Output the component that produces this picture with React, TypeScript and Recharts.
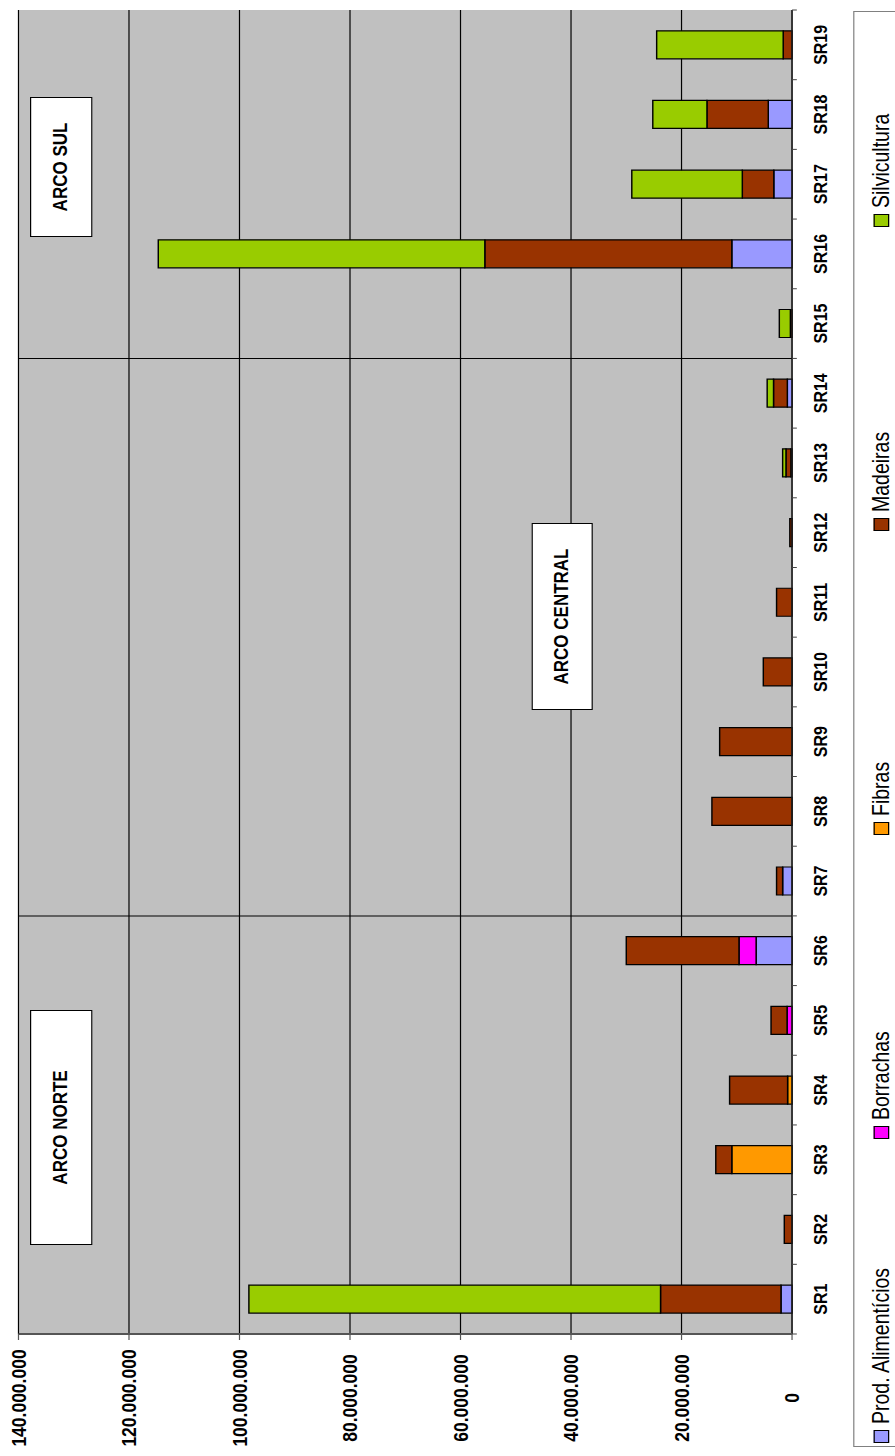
import React from 'react';
import { BarChart, Bar, XAxis, YAxis, CartesianGrid, ReferenceLine, ReferenceArea } from 'recharts';

// Sub-regions along the category axis
const regions = [
  'SR1', 'SR2', 'SR3', 'SR4', 'SR5', 'SR6', 'SR7', 'SR8', 'SR9', 'SR10',
  'SR11', 'SR12', 'SR13', 'SR14', 'SR15', 'SR16', 'SR17', 'SR18', 'SR19',
];

// Production value per product group (R$)
const prodAlimenticios = [
  2000000, 0, 0, 0, 0, 6500000, 1700000, 0, 0, 0,
  0, 0, 200000, 850000, 0, 10900000, 3300000, 4300000, 0,
];
const borrachas = [
  0, 0, 0, 0, 900000, 3100000, 0, 0, 0, 0,
  0, 0, 0, 0, 0, 0, 0, 0, 0,
];
const fibras = [
  0, 0, 10900000, 800000, 0, 0, 0, 0, 0, 0,
  0, 0, 0, 0, 0, 0, 0, 0, 0,
];
const madeiras = [
  21800000, 1400000, 2900000, 10500000, 2900000, 20400000, 1100000, 14500000, 13100000, 5200000,
  2800000, 400000, 900000, 2500000, 300000, 44700000, 5700000, 11100000, 1600000,
];
const silvicultura = [
  74500000, 0, 0, 0, 0, 0, 0, 0, 0, 0,
  0, 0, 600000, 1150000, 2000000, 59100000, 20000000, 9800000, 22900000,
];

const valueTicks = [0, 20000000, 40000000, 60000000, 80000000, 100000000, 120000000, 140000000];

// Regional groupings and the last sub-region of each group that is followed by a divider
const arcos = ['ARCO NORTE', 'ARCO CENTRAL', 'ARCO SUL'];
const arcoBreaks = ['SR6', 'SR14'];

const series = [
  { key: 'prod', name: 'Prod. Alimentícios', values: prodAlimenticios, color: '#9999ff' },
  { key: 'borr', name: 'Borrachas', values: borrachas, color: '#ff00ff' },
  { key: 'fib', name: 'Fibras', values: fibras, color: '#ff9900' },
  { key: 'mad', name: 'Madeiras', values: madeiras, color: '#993300' },
  { key: 'silv', name: 'Silvicultura', values: silvicultura, color: '#99cc00' },
];

const data = regions.map((region, i) => {
  const row: Record<string, any> = { region };
  series.forEach((s) => { row[s.key] = s.values[i]; });
  return row;
});

const FONT = 'Arial, "Liberation Sans", sans-serif';

// The chart is laid out upright and then turned a quarter turn counter-clockwise
const PAGE_W = 895;
const PAGE_H = 1456;
const STRETCH = 1.2;
const FRAME_W = PAGE_H;
const FRAME_H = PAGE_W / STRETCH;

const MARGIN = { top: 15.4, right: 10, left: 12, bottom: 55.8 };
const Y_AXIS_W = 110;
const X_AXIS_H = 30;
const PLOT_W = FRAME_W - MARGIN.left - Y_AXIS_W - MARGIN.right;

const CAT_TICK_SIZE = 4;
const CAT_TICK_MARGIN = 14;

const fmtThousands = (v: number) => String(v).replace(/\B(?=(\d{3})+(?!\d))/g, '.');

const CategoryTick = (props: any) => {
  const { x, y, payload, index, visibleTicksCount } = props;
  const half = payload.offset || PLOT_W / regions.length / 2;
  const axisY = y - CAT_TICK_SIZE - CAT_TICK_MARGIN;
  return (
    <g>
      <line x1={x - half} x2={x - half} y1={axisY} y2={axisY + CAT_TICK_SIZE} stroke="#444" />
      {index === visibleTicksCount - 1 && (
        <line x1={x + half} x2={x + half} y1={axisY} y2={axisY + CAT_TICK_SIZE} stroke="#444" />
      )}
      <text x={x} y={y} dy="0.71em" textAnchor="middle" fill="#000"
        fontFamily={FONT} fontSize={16} fontWeight="bold">
        {payload.value}
      </text>
    </g>
  );
};

// Value labels are centred under their tick
const ValueTick = (props: any) => {
  const { x, y, payload } = props;
  return (
    <text x={x} y={y} dy="0.355em" textAnchor="middle" fill="#000"
      fontFamily={FONT} fontSize={17.5} fontWeight="bold">
      {fmtThousands(payload.value)}
    </text>
  );
};

// Boxes with the group names, in frame coordinates
const arcoBoxLayout = [
  { left: 211, top: 25, width: 235, height: 51.5 },
  { left: 746, top: 442.5, width: 187, height: 51 },
  { left: 1219, top: 25, width: 140, height: 51.5 },
];

const LEGEND_SLOT = 304;

const Legend = () => (
  <div style={{
    position: 'absolute', left: 9, top: 711, width: 1436, height: 60,
    border: '1px solid #808080', boxSizing: 'border-box', background: '#fff',
    display: 'flex', alignItems: 'flex-start', paddingLeft: 3, paddingTop: 12,
  }}>
    {series.map((s) => (
      <div key={s.key} style={{
        width: LEGEND_SLOT, flex: 'none', display: 'flex', alignItems: 'center',
        fontFamily: FONT, fontSize: 19.5, lineHeight: '21px', color: '#000', whiteSpace: 'nowrap',
      }}>
        <span style={{ width: 13, height: 13, background: s.color, border: '1px solid #000', boxSizing: 'border-box', marginRight: 6 }} />
        {s.name}
      </div>
    ))}
  </div>
);

export default function App() {
  return (
    <div style={{ position: 'absolute', left: 0, top: 0, width: PAGE_W, height: PAGE_H, overflow: 'hidden', background: '#fff' }}>
      <div style={{
        position: 'absolute', left: 0, top: 0, width: FRAME_W, height: FRAME_H,
        transformOrigin: '0 0',
        transform: `translate(0px, ${PAGE_H}px) rotate(-90deg) scale(1, ${STRETCH})`,
      }}>
        <BarChart width={FRAME_W} height={FRAME_H} data={data} margin={MARGIN} barCategoryGap="30%">
          <CartesianGrid vertical={false} stroke="#000" fill="#c0c0c0" fillOpacity={1} />
          <XAxis dataKey="region" interval={0} height={X_AXIS_H}
            axisLine={{ stroke: '#222' }} tickLine={false}
            tickSize={CAT_TICK_SIZE} tickMargin={CAT_TICK_MARGIN}
            tick={<CategoryTick />} />
          <YAxis type="number" domain={[0, 140000000]} ticks={valueTicks} width={Y_AXIS_W}
            axisLine={{ stroke: '#555', strokeWidth: 2 }} tickLine={{ stroke: '#555' }}
            tickSize={6} tickMargin={58}
            tick={<ValueTick />} />
          <ReferenceArea fill="none" stroke="#808080" strokeWidth={1.5} ifOverflow="visible" />
          {arcoBreaks.map((r) => (
            <ReferenceLine key={r} x={r} position="end" stroke="#000" strokeWidth={1} />
          ))}
          {series.map((s) => (
            <Bar key={s.key} dataKey={s.key} name={s.name} stackId="total" fill={s.color}
              stroke="#000" strokeWidth={1.2} isAnimationActive={false} />
          ))}
        </BarChart>
        {arcos.map((label, i) => {
          const b = arcoBoxLayout[i];
          return (
            <div key={label} style={{
              position: 'absolute', left: b.left, top: b.top, width: b.width, height: b.height,
              background: '#fff', border: '1.3px solid #000', boxSizing: 'border-box',
              display: 'flex', alignItems: 'center', justifyContent: 'center',
              fontFamily: FONT, fontSize: 17, fontWeight: 'bold', color: '#000', whiteSpace: 'nowrap',
            }}>
              {label}
            </div>
          );
        })}
        <Legend />
      </div>
    </div>
  );
}
